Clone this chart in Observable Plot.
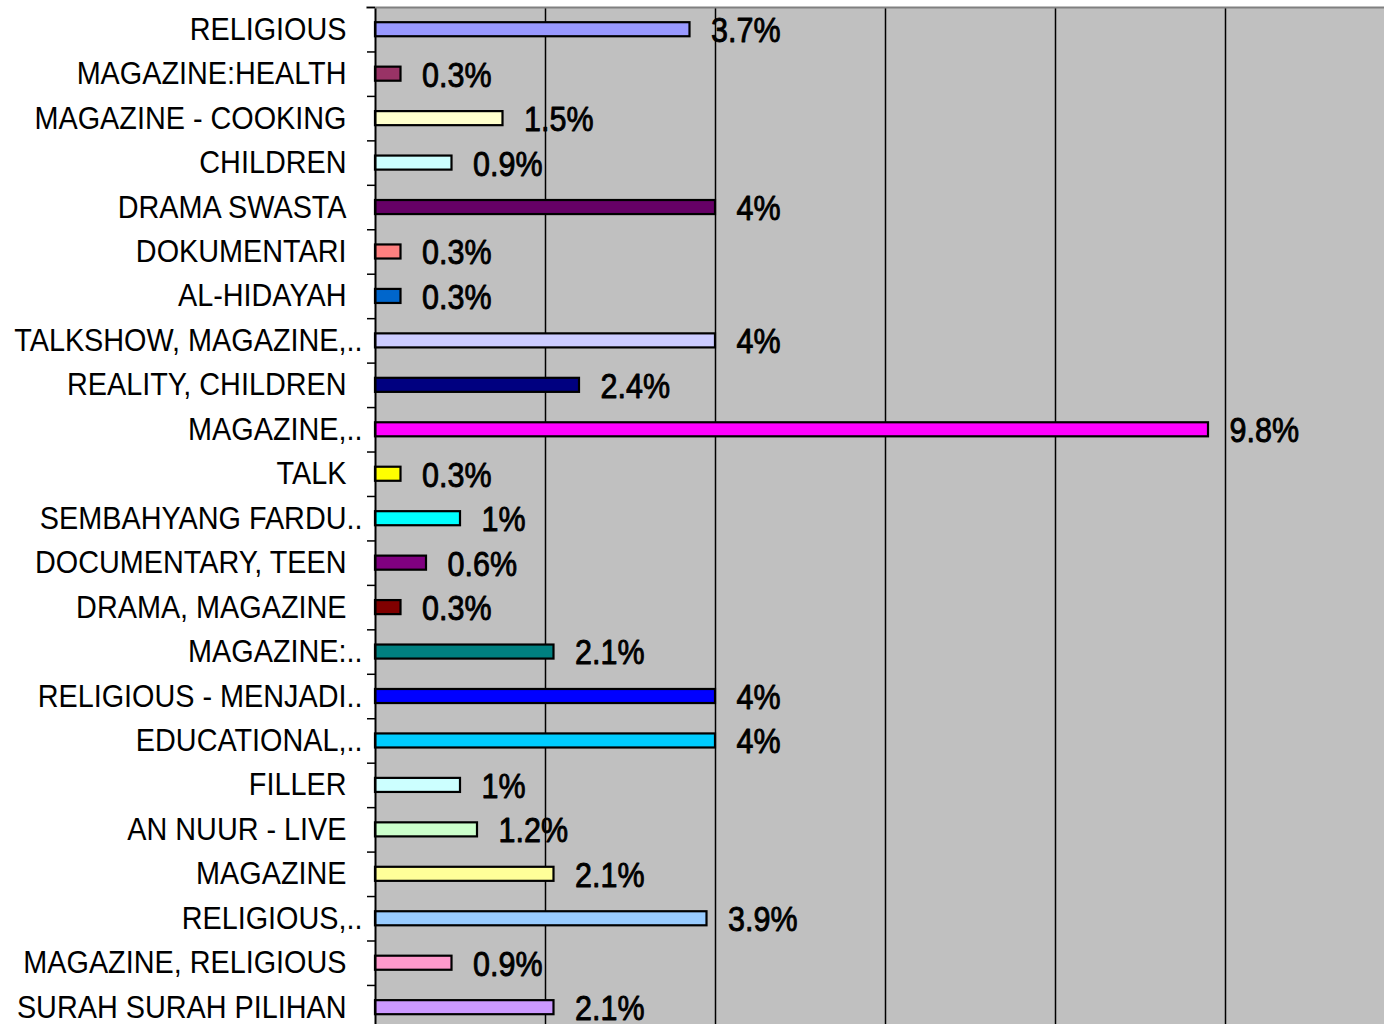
<!DOCTYPE html>
<html><head><meta charset="utf-8">
<script src="https://cdn.jsdelivr.net/npm/d3@7"></script>
<script src="https://cdn.jsdelivr.net/npm/@observablehq/plot@0.6"></script>
<style>body{margin:0;background:#fff} svg{display:block}</style>
</head><body><div id="chart"></div>
<script>
const categories = [
  "RELIGIOUS", "MAGAZINE:HEALTH", "MAGAZINE - COOKING", "CHILDREN", "DRAMA SWASTA",
  "DOKUMENTARI", "AL-HIDAYAH", "TALKSHOW, MAGAZINE,..", "REALITY, CHILDREN", "MAGAZINE,..",
  "TALK", "SEMBAHYANG FARDU..", "DOCUMENTARY, TEEN", "DRAMA, MAGAZINE", "MAGAZINE:..",
  "RELIGIOUS - MENJADI..", "EDUCATIONAL,..", "FILLER", "AN NUUR - LIVE", "MAGAZINE",
  "RELIGIOUS,..", "MAGAZINE, RELIGIOUS", "SURAH SURAH PILIHAN"
];
const values = [3.7, 0.3, 1.5, 0.9, 4, 0.3, 0.3, 4, 2.4, 9.8, 0.3, 1, 0.6, 0.3, 2.1, 4, 4, 1, 1.2, 2.1, 3.9, 0.9, 2.1];
const colors = [
  "#9999FF", "#993366", "#FFFFCC", "#CCFFFF", "#660066",
  "#FF8080", "#0066CC", "#CCCCFF", "#000080", "#FF00FF",
  "#FFFF00", "#00FFFF", "#800080", "#800000", "#008080",
  "#0000FF", "#00CCFF", "#CCFFFF", "#CCFFCC", "#FFFF99",
  "#99CCFF", "#FF99CC", "#CC99FF"
];
const gridTicks = [2, 4, 6, 8, 10];

const data = categories.map((c, i) => ({category: c, value: values[i], color: colors[i]}));
const bandHalf = (1029.4 - 7) / categories.length / 2;

const svg = Plot.plot({
  width: 1384, height: 1024,
  marginLeft: 375, marginRight: 0, marginTop: 7, marginBottom: 0,
  style: {background: "#fff", fontFamily: "'Liberation Sans', Arial, sans-serif"},
  x: {domain: [0, 12], range: [375, 1395], axis: null},
  y: {domain: categories, range: [7, 1029.4], padding: 0, round: false, axis: null, label: null},
  color: {type: "identity"},
  marks: [
    Plot.frame({fill: "#c0c0c0"}),
    Plot.text(data, {x: "value", y: "category", text: d => `${d.value}%`, dx: 21, dy: 1, textAnchor: "start",
      fontSize: 30.5, fill: "black", stroke: "black", strokeWidth: 0.8}),
    Plot.gridX(gridTicks, {stroke: "black", strokeOpacity: 1, strokeWidth: 1.5}),
    Plot.barX(data, {x: "value", y: "category", fill: "color", stroke: "black", strokeWidth: 2.2,
      insetTop: 15.2, insetBottom: 15.2}),
    Plot.ruleX([0], {stroke: "black", strokeWidth: 2}),
    Plot.ruleY([categories[0]], {dy: -bandHalf, stroke: "#808080", strokeWidth: 2, insetLeft: -9}),
    Plot.axisY({tickSize: 8, tickFormat: () => "", dy: -bandHalf, stroke: "black", strokeWidth: 1.5, label: null}),
    Plot.axisY({tickSize: 0, tickPadding: 13, fontSize: 28.8, fill: "black", label: null,
      tickFormat: d => d.endsWith("..") ? d : d + "\u00a0\u00a0"})
  ]
});

document.getElementById("chart").appendChild(svg);

// Stretch text vertically about its own centre (the reference text is slightly tall)
svg.querySelectorAll("text").forEach(t => {
  const holder = t.closest("[font-size]");
  const fs = holder ? holder.getAttribute("font-size") : "";
  const s = fs === "28.8" ? 1.08 : 1.15;
  const b = t.getBBox();
  if (!b || !isFinite(b.y)) return;
  const cx = b.x + b.width / 2, cy = b.y + b.height / 2;
  const tr = t.getAttribute("transform") || "";
  t.setAttribute("transform", `${tr} translate(${cx},${cy}) scale(1,${s}) translate(${-cx},${-cy})`);
});
</script>
</body></html>
